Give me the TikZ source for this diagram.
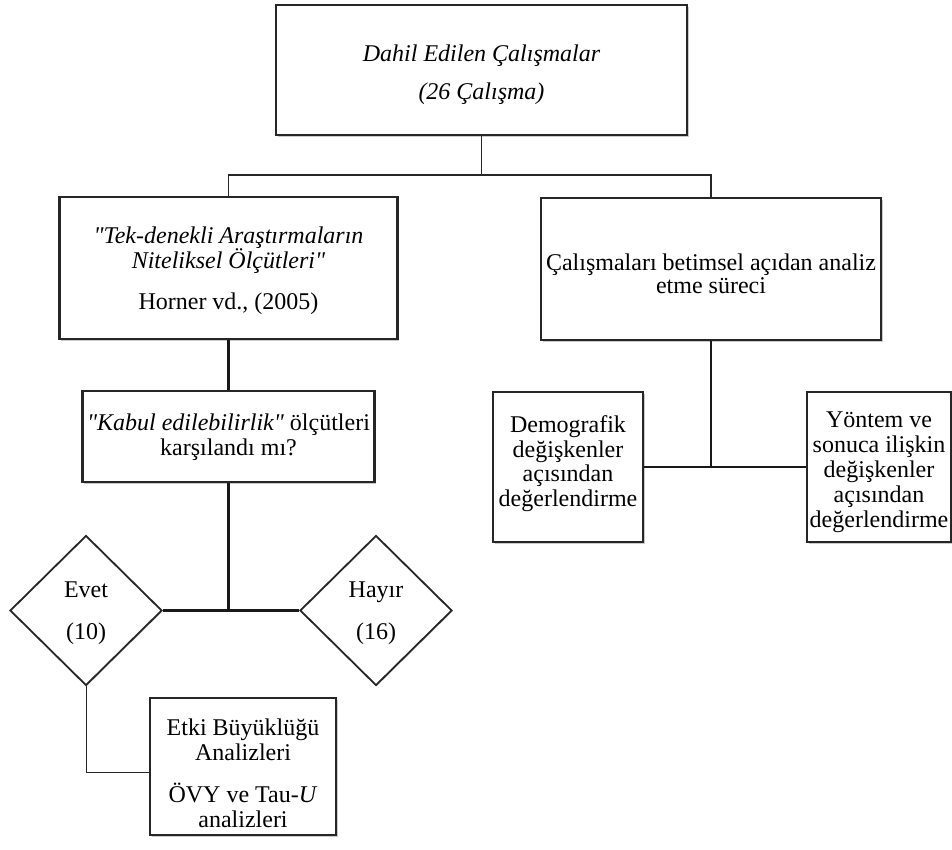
\documentclass[tikz,border=0pt]{standalone}
\usepackage{fontspec}
\setmainfont{Liberation Serif}[Ligatures=TeXOff]
\usetikzlibrary{shapes.geometric,shadows}
\newcommand{\sq}{\char34\relax}
\begin{document}
\begin{tikzpicture}[x=1pt,y=-1pt,
  every node/.style={font=\fontsize{24}{25}\selectfont, align=center, inner sep=0pt},
  it/.style={font=\fontsize{24}{25}\selectfont\itshape},
  box/.style={draw=black!85, line width=2.6pt, fill=white, rectangle,
     drop shadow={shadow xshift=1.5pt, shadow yshift=-2pt, opacity=0.35, fill=black!60}},
  dia/.style={draw=black!85, line width=1.8pt, fill=white, diamond, aspect=1,
     minimum width=152pt, minimum height=150pt,
     drop shadow={shadow xshift=1pt, shadow yshift=-1pt, opacity=0.25, fill=black!60}},
  conn/.style={draw=black!90, line width=2.2pt},
  thinconn/.style={draw=black!85, line width=1.2pt}]
\useasboundingbox (0,0) rectangle (952,849);

\node[box, it, minimum width=411pt, minimum height=130pt] (top) at (481.5,70)
  {\rule{0pt}{25.5pt}Dahil Edilen Çalışmalar\\[13pt](26 Çalışma)};
\node[box, minimum width=338pt, minimum height=142pt] (tek) at (228.5,268)
  {\rule{0pt}{22.5pt}\textit{\sq Tek-denekli Araştırmaların}\\\textit{Niteliksel Ölçütleri\sq}\\[16pt]Horner vd., (2005)};
\node[box, minimum width=340pt, minimum height=142pt] (rbox) at (711,269)
  {\rule{0pt}{27pt}Çalışmaları betimsel açıdan analiz\\[-2pt]etme süreci};
\node[box, minimum width=292pt, minimum height=91pt] (kabul) at (228.5,436.5)
  {\rule{0pt}{18pt}\textit{\sq Kabul edilebilirlik\sq} ölçütleri\\karşılandı mı?};
\node[dia] (evet) at (86,610.5) {\rule{0pt}{22pt}Evet\\[17pt](10)};
\node[dia] (hayir) at (376,610.5) {\rule{0pt}{22pt}Hayır\\[17pt](16)};
\node[box, minimum width=186pt, minimum height=137pt] (etki) at (243,766.5)
  {\rule{0pt}{30pt}Etki Büyüklüğü\\Analizleri\\[17pt]ÖVY ve Tau-\textit{U}\\analizleri};
\node[box, minimum width=150pt, minimum height=150pt] (demo) at (568,467)
  {Demografik\\[-0.5pt]değişkenler\\[-0.5pt]açısından\\[-0.5pt]değerlendirme\rule[-12pt]{0pt}{0pt}};
\node[box, minimum width=144pt, minimum height=150pt] (yontem) at (879,467)
  {\rule{0pt}{27pt}Yöntem ve\\sonuca ilişkin\\değişkenler\\açısından\\değerlendirme};

\coordinate (j1) at (481.5,175);
\draw[thinconn] (top.south) -- (j1);
\draw[thinconn] (tek.north) |- (j1) -| (rbox.north);
\draw[conn] (tek.south) -- (kabul.north);
\draw[conn] (kabul.south) -- (kabul.south |- evet.east);
\draw[conn] (evet.east) -- (hayir.west);
\draw[conn] (rbox.south) -- (rbox.south |- demo.east);
\draw[conn] (demo.east) -- (yontem.west);
\draw[thinconn, line width=1pt] (evet.south) |- ([yshift=-5.5pt]etki.west);
\end{tikzpicture}
\end{document}
